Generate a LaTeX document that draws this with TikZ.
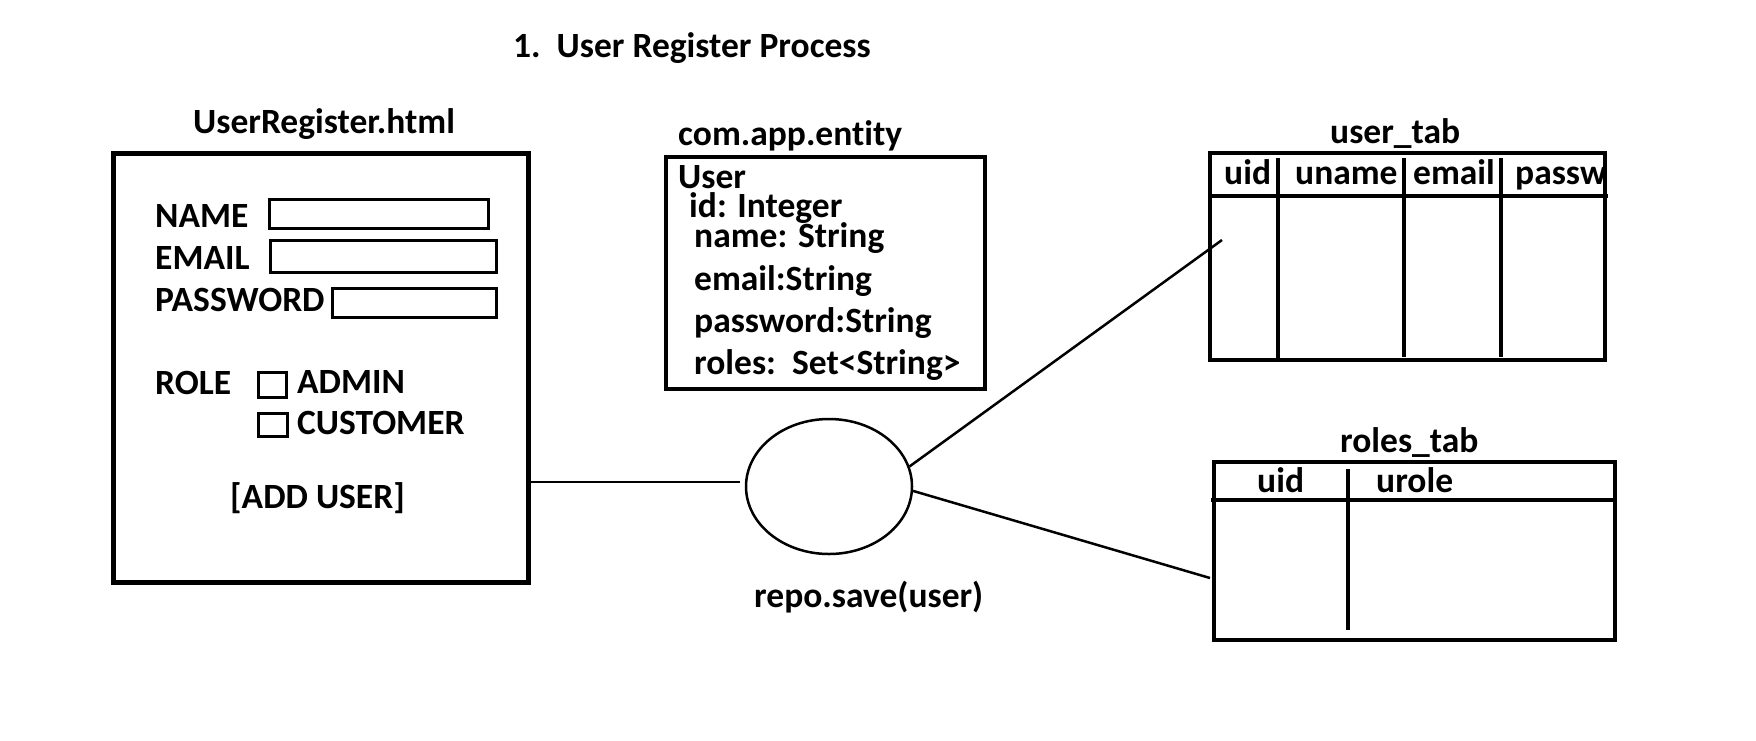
\documentclass[tikz,border=0pt]{standalone}
\usepackage{fontspec}
\setmainfont{Carlito}[Ligatures=NoCommon]
\usepackage{tikz}
\usetikzlibrary{shapes.geometric}

\begin{document}
\begin{tikzpicture}[x=1pt,y=-1pt]

    \tikzstyle{txt}=[anchor=base west, inner sep=0pt, font=\bfseries\fontsize{35.5}{40}\selectfont]
    \tikzstyle{formbox}=[draw, line width=5pt, inner sep=0pt]
    \tikzstyle{field}=[draw, line width=3pt, inner sep=0pt]
    \tikzstyle{entitybox}=[draw, line width=3.5pt, inner sep=0pt]
    \tikzstyle{tabbox}=[draw, line width=4pt, inner sep=0pt]
    \tikzstyle{tabline}=[line width=3.5pt]
    \tikzstyle{link}=[line width=2.5pt]

    \newcommand\rectnode[6]{
        \node[#2, minimum width={(#5-#3)*1pt}, minimum height={(#6-#4)*1pt}] (#1) at ({(#3+#5)/2},{(#4+#6)/2}) {};
    }
    %\rectnode{name}{style}{x1}{y1}{x2}{y2};

    \useasboundingbox (0,0) rectangle (1756,740);

    % title
    \node[txt] (title) at (513,57) {1.\ \ User Register Process};

    % the html form
    \node[txt] (form_title) at (193,133) {UserRegister.html};
    \rectnode{form}{formbox}{113}{153}{528}{582};
    \node[txt] (name_lbl) at (155,227) {NAME};
    \rectnode{name_field}{field}{269}{199}{488}{228};
    \node[txt] (email_lbl) at (155,269) {EMAIL};
    \rectnode{email_field}{field}{270}{240}{496}{272};
    \node[txt] (pwd_lbl) at (155,311) {PASSWORD};
    \rectnode{pwd_field}{field}{332}{288}{496}{317};
    \node[txt] (role_lbl) at (155,394) {ROLE};
    \rectnode{admin_chk}{field}{258}{372}{286}{397};
    \node[txt] (admin_lbl) at (297,393) {ADMIN};
    \rectnode{cust_chk}{field}{258}{413}{287}{436};
    \node[txt] (cust_lbl) at (297,434) {CUSTOMER};
    \node[txt] (add_btn) at (230,508) {[ADD USER]};

    % the entity class
    \node[txt] (entity_title) at (678,145) {com.app.entity};
    \rectnode{entity}{entitybox}{666}{157}{985}{389};
    \node[txt] (cls) at (678,188) {User};
    \node[txt] (f_id) at (689,217) {id: Integer};
    \node[txt] (f_name) at (694,247) {name: String};
    \node[txt] (f_email) at (694,290) {email:String};
    \node[txt] (f_pwd) at (694,332) {password:String};
    \node[txt] (f_roles) at (694,374) {roles:\ \ Set<String>};

    % the save call
    \node[ellipse, draw, link, minimum width=166pt, minimum height=135pt, inner sep=0pt] (save) at (829,486.5) {};
    \node[txt] (save_lbl) at (754,607) {repo.save(user)};

    % user_tab
    \node[txt] (user_title) at (1330,143) {user\_tab};
    \rectnode{user_tab}{tabbox}{1210}{153}{1605}{360};
    \draw[tabline] (user_tab.west |- 0,196) -- (1608,196);
    \draw[tabline] (1278,158) -- (1278,362);
    \draw[tabline] (1404,158) -- (1404,357);
    \draw[tabline] (1501,158) -- (1501,357);
    \node[txt] (h_uid) at (1224,184) {uid};
    \node[txt] (h_uname) at (1295,184) {uname};
    \node[txt] (h_email) at (1413,184) {email};
    \node[txt] (h_passw) at (1515,184) {passw};

    % roles_tab
    \node[txt] (roles_title) at (1340,452) {roles\_tab};
    \rectnode{roles_tab}{tabbox}{1214}{462}{1615}{640};
    \draw[tabline] (1211,500) -- (roles_tab.east |- 0,500);
    \draw[tabline] (1348,469) -- (1348,630);
    \node[txt] (r_uid) at (1257,492) {uid};
    \node[txt] (r_urole) at (1376,492) {urole};

    % connectors
    \coordinate (save_in) at (740,482);
    \coordinate (user_in) at (1222,240);
    \coordinate (roles_in) at (1210,578);
    \draw[link] (form.east |- save_in) -- (save_in);
    \draw[link] (save.14) -- (user_in);
    \draw[link] (save.-3) -- (roles_in);

\end{tikzpicture}
\end{document}
